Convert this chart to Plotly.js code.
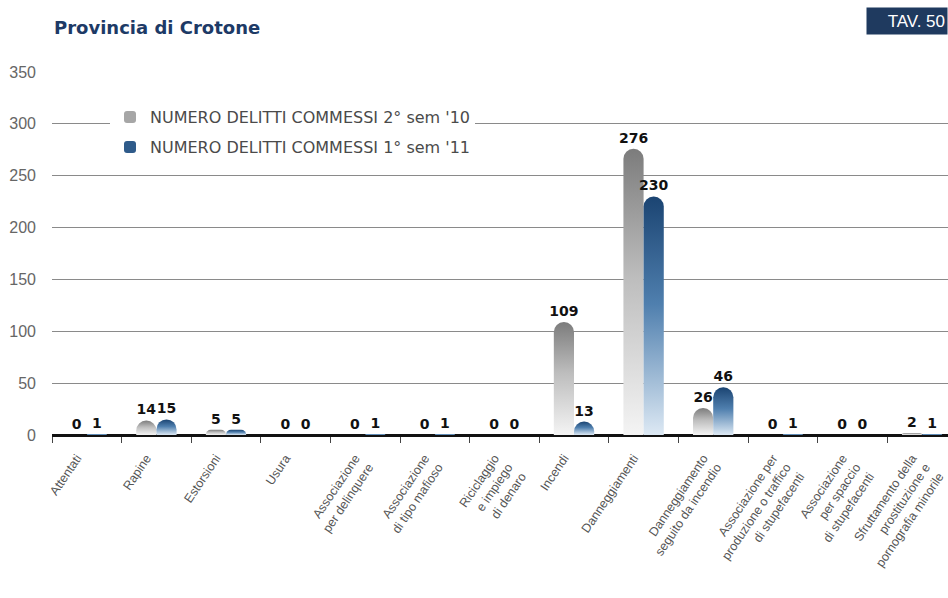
<!DOCTYPE html>
<html>
<head>
<meta charset="utf-8">
<script src="https://cdn.plot.ly/plotly-3.0.1.min.js"></script>
<style>
html,body{margin:0;padding:0;background:#fff;}
#chart{width:948px;height:598px;}
</style>
</head>
<body>
<div id="chart"></div>
<script>
// ---- data ----
var categories = [
  "Attentati",
  "Rapine",
  "Estorsioni",
  "Usura",
  "Associazione<br>per delinquere",
  "Associazione<br>di tipo mafioso",
  "Riciclaggio<br>e impiego<br>di denaro",
  "Incendi",
  "Danneggiamenti",
  "Danneggiamento<br>seguito da incendio",
  "Associazione per<br>produzione o traffico<br>di stupefacenti",
  "Associazione<br>per spaccio<br>di stupefacenti",
  "Sfruttamento della<br>prostituzione e<br>pornografia minorile"
];
var seriesNames = ["NUMERO DELITTI COMMESSI 2° sem '10", "NUMERO DELITTI COMMESSI 1° sem '11"];
var sem2_10 = [0, 14, 5, 0, 0, 0, 0, 109, 276, 26, 0, 0, 2];
var sem1_11 = [1, 15, 5, 0, 1, 1, 0, 13, 230, 46, 1, 0, 1];
var yTicks = [0, 50, 100, 150, 200, 250, 300, 350];

var labelFont = {family: "DejaVu Sans, Liberation Sans, sans-serif", size: 14, color: "#111", weight: "bold"};

var traces = [
  {
    type: "bar", name: seriesNames[0], x: categories, y: sem2_10,
    marker: {color: "#a6a6a6", cornerradius: "50%"},
    text: sem2_10.map(String), textposition: "outside", cliponaxis: false, constraintext: "none",
    textfont: labelFont, legend: "legend", hoverinfo: "skip"
  },
  {
    type: "bar", name: seriesNames[1], x: categories, y: sem1_11,
    marker: {color: "#2f5b8a", cornerradius: "50%"},
    text: sem1_11.map(String), textposition: "outside", cliponaxis: false, constraintext: "none",
    textfont: labelFont, legend: "legend2", hoverinfo: "skip"
  }
];

var plotLeft = 52, plotTop = 72, plotBottom = 598 - 435;
var plotW = 948 - plotLeft, plotH = 435 - 72;
var legendFont = {family: "DejaVu Sans, Liberation Sans, sans-serif", size: 16, color: "#4a4a4a"};

var layout = {
  width: 948, height: 598,
  margin: {l: plotLeft, r: 0, t: plotTop, b: plotBottom},
  paper_bgcolor: "#ffffff", plot_bgcolor: "#ffffff",
  barmode: "group", bargap: 0.42, bargroupgap: 0,
  font: {family: "Liberation Sans, Arial, sans-serif"},
  title: {
    text: "<b>Provincia di Crotone</b>",
    xref: "container", yref: "container",
    x: 54 / 948, xanchor: "left", y: 1 - 28 / 598, yanchor: "middle",
    font: {family: "DejaVu Sans, Liberation Sans, sans-serif", size: 18, color: "#1d3a66"}
  },
  xaxis: {
    type: "category", range: [-0.5, -0.5 + plotW / 69.6],
    tickson: "boundaries", ticks: "outside", ticklen: 6, tickcolor: "#444", tickwidth: 1,
    tickangle: -56, showgrid: false, ticklabelstandoff: 9, ticklabelshift: -10,
    showline: true, linecolor: "#111", linewidth: 2,
    tickfont: {family: "Liberation Sans, Arial, sans-serif", size: 12.5, color: "#555"},
    fixedrange: true
  },
  yaxis: {
    range: [0, 350], tickvals: yTicks, ticktext: yTicks.map(String),
    showgrid: true, gridcolor: "#8a8a8a", gridwidth: 1,
    zeroline: true, zerolinecolor: "#111", zerolinewidth: 2,
    ticks: "", ticklabelstandoff: 15,
    tickfont: {family: "Liberation Sans, Arial, sans-serif", size: 16, color: "#666"},
    fixedrange: true
  },
  showlegend: true,
  legend: {
    x: (110 - plotLeft) / plotW, xanchor: "left",
    y: (435 - 117) / plotH, yanchor: "middle",
    bgcolor: "#ffffff", borderwidth: 0, font: legendFont, itemwidth: 30
  },
  legend2: {
    x: (110 - plotLeft) / plotW, xanchor: "left",
    y: (435 - 147) / plotH, yanchor: "middle",
    bgcolor: "rgba(255,255,255,0)", borderwidth: 0, font: legendFont, itemwidth: 30
  },
  annotations: [
    {
      text: "TAV. 50", xref: "paper", yref: "paper",
      x: 1, xanchor: "right", y: (435 - 21) / plotH, yanchor: "middle",
      showarrow: false, bgcolor: "#1f3a5f", width: 76, height: 22, borderpad: 2, align: "right",
      font: {family: "Liberation Sans Narrow, Liberation Sans, Arial, sans-serif", size: 17, color: "#ffffff"}
    }
  ]
};

Plotly.newPlot("chart", traces, layout, {staticPlot: true, displayModeBar: false}).then(function (gd) {
  // vertical gradient fills for the bars drawn by Plotly
  var svg = gd.querySelector(".main-svg");
  var ns = "http://www.w3.org/2000/svg";
  var defs = svg.querySelector("defs") || svg.insertBefore(document.createElementNS(ns, "defs"), svg.firstChild);
  function grad(id, top, mid, bottom) {
    var g = document.createElementNS(ns, "linearGradient");
    g.setAttribute("id", id);
    g.setAttribute("x1", "0"); g.setAttribute("y1", "0");
    g.setAttribute("x2", "0"); g.setAttribute("y2", "1");
    [[0, top], [0.45, mid], [1, bottom]].forEach(function (s) {
      var st = document.createElementNS(ns, "stop");
      st.setAttribute("offset", s[0]);
      st.setAttribute("stop-color", s[1]);
      g.appendChild(st);
    });
    defs.appendChild(g);
  }
  grad("gradGray", "#7c7c7c", "#bdbdbd", "#f4f4f4");
  grad("gradBlue", "#1b4472", "#4f7fae", "#dde9f4");
  var groups = gd.querySelectorAll(".barlayer .trace");
  var ids = ["gradGray", "gradBlue"];
  groups.forEach(function (grp, i) {
    grp.querySelectorAll(".point path").forEach(function (p) {
      p.style.fill = "url(#" + ids[i] + ")";
    });
  });
});
</script>
</body>
</html>
